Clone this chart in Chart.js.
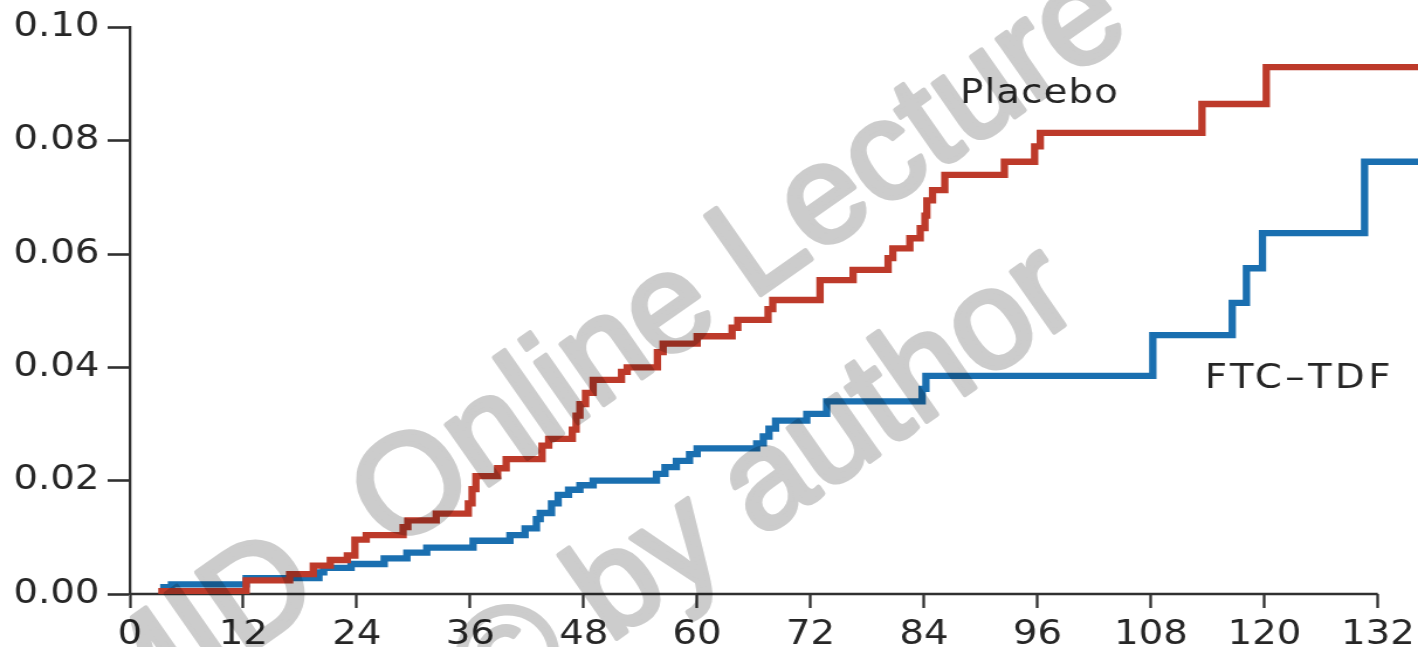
<!DOCTYPE html>
<html>
<head>
<meta charset="utf-8">
<title>Cumulative probability of HIV infection</title>
<script src="https://cdn.jsdelivr.net/npm/chart.js@4.4.1/dist/chart.umd.min.js"></script>
<style>
  html, body { margin: 0; padding: 0; background: #ffffff; overflow: hidden; }
  canvas { display: block; }
</style>
</head>
<body>
<!-- drawn on a narrower bitmap and widened by CSS, giving the broad lettering of the figure -->
<canvas id="km" width="1212" height="647" style="width:1418px;height:647px"></canvas>
<script>
// ---- data: cumulative probability, step changes (month, value) ----
const placeboMonths = [3.0, 12.3, 16.9, 19.4, 21.2, 23.0, 23.8, 25.0, 28.9, 29.4, 32.4, 35.8, 36.2, 36.6,
  38.9, 39.8, 43.6, 44.3, 46.8, 47.2, 47.6, 48.2, 49.0, 52.0, 52.6, 55.8, 56.4, 60.0, 63.7, 64.3,
  67.5, 68.0, 73.0, 76.5, 80.2, 80.7, 82.5, 83.6, 84.1, 84.3, 84.9, 86.2, 92.5, 95.7, 96.3,
  113.4, 120.2, 136.25];
const placeboRisk = [0.0005, 0.0024, 0.0035, 0.0050, 0.0060, 0.0068, 0.0096, 0.0104, 0.0118, 0.0130, 0.0142, 0.0160, 0.0185, 0.0208,
  0.0222, 0.0238, 0.0262, 0.0274, 0.0290, 0.0315, 0.0335, 0.0355, 0.0378, 0.0392, 0.0400, 0.0427, 0.0442, 0.0455, 0.0470, 0.0484,
  0.0503, 0.0519, 0.0554, 0.0572, 0.0593, 0.0610, 0.0628, 0.0646, 0.0668, 0.0695, 0.0713, 0.0740, 0.0763, 0.0790, 0.0814,
  0.0865, 0.0930, 0.0930];

const ftcMonths = [3.2, 4.4, 12.3, 20.0, 20.5, 23.4, 26.9, 29.3, 31.4, 36.3, 40.2, 41.8, 43.0, 43.4,
  44.6, 45.3, 46.4, 47.6, 49.0, 55.7, 56.6, 57.8, 59.2, 60.0, 66.3, 67.0, 67.6, 68.3, 71.6, 73.7,
  83.8, 84.2, 108.2, 116.6, 118.1, 119.8, 130.6, 136.25];
const ftcRisk = [0.0012, 0.0017, 0.0028, 0.0038, 0.0046, 0.0053, 0.0063, 0.0073, 0.0082, 0.0094, 0.0104, 0.0116, 0.0132, 0.0143,
  0.0160, 0.0175, 0.0184, 0.0192, 0.0200, 0.0212, 0.0224, 0.0235, 0.0247, 0.0257, 0.0266, 0.0278, 0.0292, 0.0306, 0.0318, 0.0340,
  0.0362, 0.0385, 0.0457, 0.0514, 0.0575, 0.0637, 0.0763, 0.0763];

const seriesNames = ['Placebo', 'FTC\u2013TDF'];
const xTickValues = [0, 12, 24, 36, 48, 60, 72, 84, 96, 108, 120, 132];
const yTickValues = [0, 0.02, 0.04, 0.06, 0.08, 0.10];

// ---- styling ----
const STRETCH = 1418 / 1212;          // CSS width / bitmap width
const INK = '#262626';
const AXIS = '#303030';
const RED = '#bd3a2a';
const BLUE = '#1a6fb0';
const FONT = '"DejaVu Sans", "Liberation Sans", sans-serif';

const toPoints = (xs, ys) => xs.map((x, i) => ({ x, y: ys[i] }));

// Curve labels, anchored in data units
const curveLabels = [
  { text: seriesNames[0], x: 87.8, y: 0.0867, spacing: '1px' },
  { text: seriesNames[1], x: 113.7, y: 0.0364, spacing: '3px' }
];

// Bottom axis line, running only as far as the last tick
const axisLinePlugin = {
  id: 'axisLine',
  beforeDatasetsDraw(chart) {
    const { ctx, scales: { x }, chartArea } = chart;
    ctx.save();
    ctx.strokeStyle = AXIS;
    ctx.lineWidth = 2.6;
    ctx.beginPath();
    ctx.moveTo(x.getPixelForValue(xTickValues[0]), chartArea.bottom);
    ctx.lineTo(x.getPixelForValue(xTickValues[xTickValues.length - 1]), chartArea.bottom);
    ctx.stroke();
    ctx.restore();
  }
};

// Curve names beside their curves
const curveLabelPlugin = {
  id: 'curveLabels',
  afterDatasetsDraw(chart) {
    const { ctx, scales: { x, y } } = chart;
    ctx.save();
    ctx.fillStyle = INK;
    ctx.font = '33px ' + FONT;
    ctx.textAlign = 'left';
    ctx.textBaseline = 'alphabetic';
    curveLabels.forEach(l => {
      ctx.letterSpacing = l.spacing;
      ctx.fillText(l.text, x.getPixelForValue(l.x), y.getPixelForValue(l.y));
    });
    ctx.restore();
  }
};

// Faint diagonal watermark laid over the figure (page pixels, words placed along each baseline).
// Painted on its own layer first, then multiplied onto the chart.
const watermarkPlugin = {
  id: 'watermark',
  afterDraw(chart) {
    const { ctx } = chart;
    const layer = document.createElement('canvas');
    layer.width = chart.width;
    layer.height = chart.height;
    const w = layer.getContext('2d');
    const lines = [
      { x: 115, y: 747, words: [['MID', 0], ['Online', 338], ['Lecture', 777]] },
      { x: 493, y: 725, words: [['\u00A9', 0], ['by', 142], ['author', 325]] }
    ];
    w.scale(1 / STRETCH, 1);
    w.fillStyle = '#cccccc';
    w.strokeStyle = '#cccccc';
    w.lineWidth = 5;
    w.lineJoin = 'round';
    w.font = '140px "Liberation Sans", Arial, sans-serif';
    w.textBaseline = 'alphabetic';
    lines.forEach(l => {
      w.save();
      w.translate(l.x, l.y);
      w.rotate(-35 * Math.PI / 180);
      l.words.forEach(([word, along]) => {
        w.fillText(word, along, 0);
        w.strokeText(word, along, 0);
      });
      w.restore();
    });
    ctx.save();
    ctx.globalCompositeOperation = 'multiply';
    ctx.drawImage(layer, 0, 0);
    ctx.restore();
  }
};

new Chart(document.getElementById('km'), {
  type: 'line',
  data: {
    datasets: [
      {
        label: seriesNames[0],
        data: toPoints(placeboMonths, placeboRisk),
        borderColor: RED,
        borderWidth: 6.3,
        stepped: 'before',
        pointRadius: 0,
        borderJoinStyle: 'miter',
        borderCapStyle: 'butt',
        fill: false
      },
      {
        label: seriesNames[1],
        data: toPoints(ftcMonths, ftcRisk),
        borderColor: BLUE,
        borderWidth: 6.3,
        stepped: 'before',
        pointRadius: 0,
        borderJoinStyle: 'miter',
        borderCapStyle: 'butt',
        fill: false
      }
    ]
  },
  options: {
    responsive: false,
    animation: false,
    devicePixelRatio: 1,
    layout: { padding: { top: 27.5, left: 0, right: 0, bottom: 0 } },
    plugins: { legend: { display: false }, tooltip: { enabled: false } },
    scales: {
      x: {
        type: 'linear',
        min: 0,
        max: 136.25,
        afterBuildTicks: s => { s.ticks = xTickValues.map(v => ({ value: v })); },
        afterFit: s => { s.height = 53; s.paddingLeft = 0; s.paddingRight = 0; },
        border: { display: false },
        grid: { drawOnChartArea: false, drawTicks: true, tickLength: 14, tickWidth: 2.3, tickColor: AXIS },
        ticks: {
          color: INK,
          font: { family: FONT, size: 33 },
          padding: 8,
          maxRotation: 0,
          autoSkip: false,
          callback: v => String(v)
        }
      },
      y: {
        min: 0,
        max: 0.1,
        afterBuildTicks: s => { s.ticks = yTickValues.map(v => ({ value: v })); },
        afterFit: s => { s.width = 111; s.paddingTop = 0; s.paddingBottom = 0; },
        border: { display: true, color: AXIS, width: 2.3 },
        grid: { drawOnChartArea: false, drawTicks: true, tickLength: 19, tickWidth: 2.6, tickColor: AXIS },
        ticks: {
          color: INK,
          font: { family: FONT, size: 33 },
          padding: 7,
          callback: v => v.toFixed(2)
        }
      }
    }
  },
  plugins: [axisLinePlugin, curveLabelPlugin, watermarkPlugin]
});
</script>
</body>
</html>
